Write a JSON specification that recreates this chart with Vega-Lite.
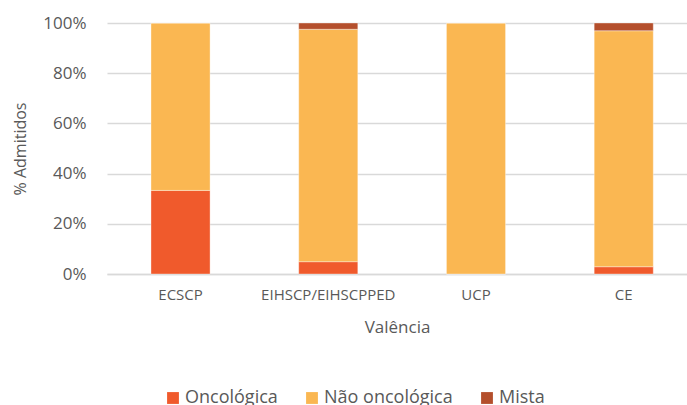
{
  "$schema": "https://vega.github.io/schema/vega-lite/v6.json",
  "autosize": "none",
  "padding": {"left": 107, "top": 23, "right": 0, "bottom": 131},
  "width": 580,
  "height": 251,
  "background": "white",
  "data": {"values": [
    {"valencia": "ECSCP", "tipo": "Oncológica", "ord": 1, "pct": 33.3},
    {"valencia": "ECSCP", "tipo": "Não oncológica", "ord": 2, "pct": 66.7},
    {"valencia": "ECSCP", "tipo": "Mista", "ord": 3, "pct": 0},
    {"valencia": "EIHSCP/EIHSCPPED", "tipo": "Oncológica", "ord": 1, "pct": 4.9},
    {"valencia": "EIHSCP/EIHSCPPED", "tipo": "Não oncológica", "ord": 2, "pct": 92.6},
    {"valencia": "EIHSCP/EIHSCPPED", "tipo": "Mista", "ord": 3, "pct": 2.5},
    {"valencia": "UCP", "tipo": "Oncológica", "ord": 1, "pct": 0},
    {"valencia": "UCP", "tipo": "Não oncológica", "ord": 2, "pct": 100},
    {"valencia": "UCP", "tipo": "Mista", "ord": 3, "pct": 0},
    {"valencia": "CE", "tipo": "Oncológica", "ord": 1, "pct": 2.9},
    {"valencia": "CE", "tipo": "Não oncológica", "ord": 2, "pct": 94.0},
    {"valencia": "CE", "tipo": "Mista", "ord": 3, "pct": 3.1}
  ]},
  "mark": {"type": "bar", "stroke": "#ffffff", "strokeWidth": 0.6, "strokeOpacity": 0.6},
  "encoding": {
    "x": {
      "field": "valencia", "type": "nominal", "sort": null,
      "scale": {"paddingInner": 0.6, "paddingOuter": 0.263, "align": 0.566},
      "axis": {
        "title": "Valência", "labelAngle": 0, "ticks": false, "domain": true,
        "domainColor": "#d9d9d9", "domainWidth": 1.5, "labelOverlap": false,
        "labelFont": "Open Sans", "labelFontSize": 15, "labelColor": "#595959", "labelPadding": 13,
        "titleFont": "Open Sans", "titleFontSize": 17, "titleFontWeight": "normal", "titleColor": "#595959", "titlePadding": 17
      }
    },
    "y": {
      "field": "pct", "type": "quantitative", "stack": "normalize",
      "scale": {"domain": [0, 1]},
      "axis": {
        "title": "% Admitidos", "format": ".0%", "values": [0, 0.2, 0.4, 0.6, 0.8, 1],
        "domain": false, "ticks": false, "gridColor": "#d9d9d9", "gridWidth": 1.5,
        "labelOverlap": false, "labelFlush": false,
        "labelFont": "Open Sans", "labelFontSize": 17, "labelColor": "#595959", "labelPadding": 21,
        "titleFont": "Open Sans", "titleFontSize": 16, "titleFontWeight": "normal", "titleColor": "#595959", "titlePadding": 14
      }
    },
    "color": {
      "field": "tipo", "type": "nominal",
      "scale": {"domain": ["Oncológica", "Não oncológica", "Mista"], "range": ["#F05A2C", "#FAB752", "#B44F2C"]},
      "legend": {
        "title": null, "orient": "none", "direction": "horizontal",
        "legendX": 57, "legendY": 366,
        "symbolType": "square", "symbolSize": 140, "symbolStrokeWidth": 0,
        "labelFont": "Open Sans", "labelFontSize": 18, "labelColor": "#595959", "labelOffset": 3,
        "columnPadding": 25, "labelLimit": 300
      }
    },
    "order": {"field": "ord", "type": "quantitative"}
  },
  "config": {"view": {"stroke": null}}
}
